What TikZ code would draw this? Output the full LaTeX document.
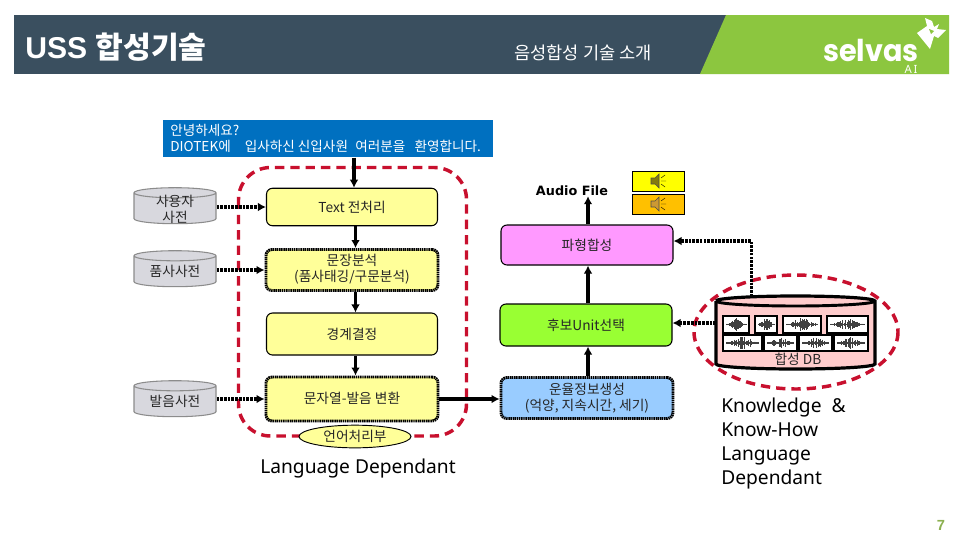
\documentclass[tikz,border=0pt]{standalone}
\usepackage{fontspec}
\setmainfont{Noto Sans CJK KR}
\newfontfamily\latinf{Noto Sans}
\newfontfamily\headf{Liberation Sans}
\newfontfamily\logof{Poppins}
\newfontfamily\audiof{DejaVu Sans}
\usetikzlibrary{arrows.meta,shapes.geometric}
\definecolor{bardark}{HTML}{3A4F5F}
\definecolor{bargreen}{HTML}{8CC63F}
\definecolor{boxyellow}{HTML}{FFFF99}
\definecolor{dashred}{HTML}{C8102E}
\definecolor{cylgrey}{HTML}{D8D8DE}
\tikzset{
  x=0.75pt,y=-0.75pt,
  lab/.style={font=\fontsize{10.3pt}{12pt}\selectfont,align=center,text=black!85},
  procbox/.style={lab,draw=black,line width=0.8pt,rounded corners=4.5pt,inner sep=0pt},
  dotbox/.style={procbox,line width=2.2pt,dash pattern=on 1.1pt off 0.5pt},
  solidarrow/.style={line width=2.3pt,-{Latex[length=6pt,width=6.5pt]}},
  dotarrow/.style={line width=2.6pt,dash pattern=on 2pt off 0.8pt,-{Latex[length=6pt,width=6.5pt,sep=0pt]}},
  reddash/.style={draw=dashred,line width=2.6pt,dash pattern=on 7pt off 4.5pt},
  dictcyl/.style={lab,shape=cylinder,shape border rotate=90,aspect=0.2,draw=black!45,line width=0.8pt,
    cylinder uses custom fill,cylinder body fill=cylgrey,cylinder end fill=cylgrey,
    minimum width=61.5pt,minimum height=27pt,inner sep=0pt},
  tile/.style={draw=black,fill=white,line width=1.9pt},
  big/.style={font=\latinf\fontsize{14.4pt}{18pt}\selectfont,text=black},
}
\newcommand{\wavetile}[5]{% x1 x2 y1 y2 seed
  \draw[tile] (#1,#3) rectangle (#2,#4);
  \pgfmathsetseed{#5}
  \pgfmathsetmacro{\yc}{(#3+#4)/2}
  \pgfmathsetmacro{\xs}{#1+3}
  \pgfmathsetmacro{\xe}{#2-3}
  \draw[black!80,line width=0.3pt] (\xs,\yc) -- (\xe,\yc);
  \foreach \t in {0,0.03,...,1}{
    \pgfmathsetmacro{\xx}{\xs+\t*(\xe-\xs)}
    \pgfmathsetmacro{\hh}{0.6+6*rnd*sin(180*\t)*sin(180*\t)}
    \draw[black!75,line width=0.4pt] (\xx,\yc-\hh) -- (\xx,\yc+\hh);
  }
}
\newcommand{\speaker}[3]{% cx cy colour
  \begin{scope}[shift={(#1,#2)}]
    \filldraw[fill=#3,draw=black!70,line width=0.4pt] (-7,-3) -- (-3,-3) -- (1,-7) -- (1,7) -- (-3,3) -- (-7,3) -- cycle;
    \draw[black,line width=0.3pt] (3,-3) -- (7,-6) (3,0) -- (8,0) (3,3) -- (7,6);
  \end{scope}
}
\begin{document}
\begin{tikzpicture}
\useasboundingbox (0,0) rectangle (960,540);
\fill[white] (0,0) rectangle (960,540);
% header
\fill[bardark] (14,15) rectangle (727,74);
\fill[bargreen] (726,15) -- (949,15) -- (949,74) -- (700,74) -- cycle;
\node[anchor=west,inner sep=0pt,text=white] (title) at (25,47)
  {\fontsize{22.6pt}{26pt}\selectfont\bfseries{\headf USS }합성기술};
\node[text=white,inner sep=0pt,font=\fontsize{13.2pt}{14pt}\selectfont] (sub) at (583,53) {음성합성 기술 소개};
% logo
\node[text=white,inner sep=0pt,anchor=base,font=\logof\bfseries\fontsize{21.5pt}{24pt}\selectfont,yscale=1.05] (logo) at (871,61) {selvas};
\node[text=white,inner sep=0pt,font=\latinf\fontsize{8.5pt}{9pt}\selectfont] (ai) at (911,69) {A\,I};
\fill[white] (917,33) -- (927,26) -- (925,18) -- (932,21) -- (934,27) -- (939,24) -- (937,29) -- (946,30) -- (938,38) -- (934,36) -- (930,49) -- cycle;
\fill[bargreen] (929,29) -- (934,31) -- (931,34) -- cycle;
% blue message
\node[inner sep=0pt,anchor=north west,minimum width=247.5pt,minimum height=27.75pt,fill={rgb,255:red,0;green,112;blue,192}] (msg) at (163,120) {};
\node[anchor=west,inner sep=0pt,text=white,align=left,font=\fontsize{10.2pt}{12pt}\selectfont] (msgtext) at (170,138)
  {안녕하세요?\\DIOTEK에~~\hspace{6pt}입사하신 신입사원~~\hspace{1pt}여러분을~~\hspace{2.25pt}환영합니다.};
% red dashed outlines
\draw[reddash,rounded corners=24pt] (238.5,167.5) rectangle (466.5,436);
\draw[reddash] (796,332) ellipse (102 and 57);
% processing boxes
\node[procbox,fill=boxyellow,minimum width=128.25pt,minimum height=28.1pt] (text) at (352,207) {Text 전처리};
\node[dotbox,fill=boxyellow,minimum width=129pt,minimum height=30.75pt] (parse) at (352,270) {};
\node[lab] (parsetext) at (352,269) {문장분석\\(품사태깅/구문분석)};
\node[procbox,fill=boxyellow,minimum width=128.25pt,minimum height=31.5pt] (bound) at (352,334) {경계결정};
\node[dotbox,fill=boxyellow,minimum width=129pt,minimum height=33pt] (g2p) at (352,399) {};
\node[lab] (g2ptext) at (352,398) {문자열-발음 변환};
\node[lab,shape=ellipse,draw=black,line width=0.7pt,fill=boxyellow,minimum width=84pt,minimum height=17pt,inner sep=0pt] (lang) at (355,436.5) {언어처리부};
\node[big,inner sep=0pt] (ld) at (358,468) {Language Dependant};
% dictionaries
\node[dictcyl] (userdict) at (175,208.5) {\phantom{품사사전}};
\node[lab,inner sep=0pt] (usertext) at (175,209) {사용자\\사전};
\node[dictcyl] (posdict) at (175,271.5) {\phantom{품사사전}};
\node[lab,inner sep=0pt] (postext) at (175,271) {품사사전};
\node[dictcyl] (pronodict) at (175,401.5) {\phantom{품사사전}};
\node[lab,inner sep=0pt] (pronotext) at (175,401) {발음사전};
% right column
\node[procbox,fill={rgb,255:red,255;green,153;blue,255},minimum width=129pt,minimum height=30pt] (wave) at (587,245) {파형합성};
\node[procbox,fill={rgb,255:red,153;green,255;blue,51},minimum width=129pt,minimum height=31.5pt] (unit) at (586,325) {후보Unit선택};
\node[dotbox,fill={rgb,255:red,153;green,204;blue,255},minimum width=129pt,minimum height=30.75pt] (prosody) at (587,398) {};
\node[lab] (prosodytext) at (587,398) {운율정보생성\\(억양, 지속시간, 세기)};
\node[inner sep=0pt,font=\audiof\bfseries\fontsize{9.6pt}{12pt}\selectfont] (audio) at (572,191) {Audio File};
\node[draw=black,line width=0.7pt,fill={rgb,255:red,255;green,255;blue,0},minimum width=39.5pt,minimum height=15pt,inner sep=0pt] (sp1) at (658.5,181.5) {};
\node[draw=black,line width=0.7pt,fill={rgb,255:red,255;green,192;blue,0},minimum width=39.5pt,minimum height=15pt,inner sep=0pt] (sp2) at (658.5,204.5) {};
\speaker{658}{181}{olive!90!black}
\speaker{658}{204}{brown!80!yellow}
% database
\filldraw[fill={rgb,255:red,255;green,204;blue,204},draw=black,line width=2.4pt]
  (716,301) -- (716,364) arc[start angle=180,end angle=0,x radius=79.5,y radius=5] -- (875,301) arc[start angle=0,end angle=-180,x radius=79.5,y radius=5];
\draw[black,line width=2.2pt] (716,301) arc[start angle=180,end angle=0,x radius=79.5,y radius=5];
\coordinate (dbtop) at (751.5,296.5);
\coordinate (dbleft) at (716,323);
\wavetile{723}{749}{316}{333}{11}
\wavetile{755}{777}{316}{333}{12}
\wavetile{783}{821}{316}{333}{13}
\wavetile{827}{868}{316}{333}{14}
\wavetile{723}{762}{335}{351}{15}
\wavetile{764}{797}{335}{351}{16}
\wavetile{799}{832}{335}{351}{17}
\wavetile{834}{868}{335}{351}{18}
\node[lab,inner sep=0pt] (dblabel) at (798,359) {합성 DB};
\node[big,anchor=north west,align=left,inner sep=0pt] (know) at (721,398) {Knowledge ~\&\\Know-How\\Language\\Dependant};
\node[inner sep=0pt,text={rgb,255:red,140;green,176;blue,80},font=\headf\bfseries\fontsize{11pt}{12pt}\selectfont] (page) at (941,525) {7};
% connectors
\coordinate (colL) at (354,170);
\coordinate (colM) at (355.5,170);
\coordinate (colR) at (588,300);
\coordinate (busy) at (0,241);
\draw[solidarrow] (colL |- msg.south) -- (colL |- text.north);
\draw[solidarrow] (colM |- text.south) -- (colM |- parse.north);
\draw[solidarrow] (colM |- parse.south) -- (colM |- bound.north);
\draw[solidarrow] (colM |- bound.south) -- (colM |- g2p.north);
\draw[solidarrow] (g2p.east) -- (g2p.east -| prosody.west);
\draw[solidarrow] (colR |- prosody.north) -- (colR |- unit.south);
\draw[solidarrow] (colR |- unit.north) -- (colR |- wave.south);
\draw[solidarrow] (colR |- wave.north) -- (colR |- audio.south);
\draw[dotarrow] (userdict.east |- text.west) -- (text.west);
\draw[dotarrow] (posdict.east |- parse.west) -- (parse.west);
\draw[dotarrow] (pronodict.east |- g2p.west) -- (g2p.west);
\draw[dotarrow] (dbleft) -- (unit.east |- dbleft);
\draw[dotarrow] (dbtop) -- (dbtop |- busy) -- (wave.east |- busy);
\end{tikzpicture}
\end{document}
